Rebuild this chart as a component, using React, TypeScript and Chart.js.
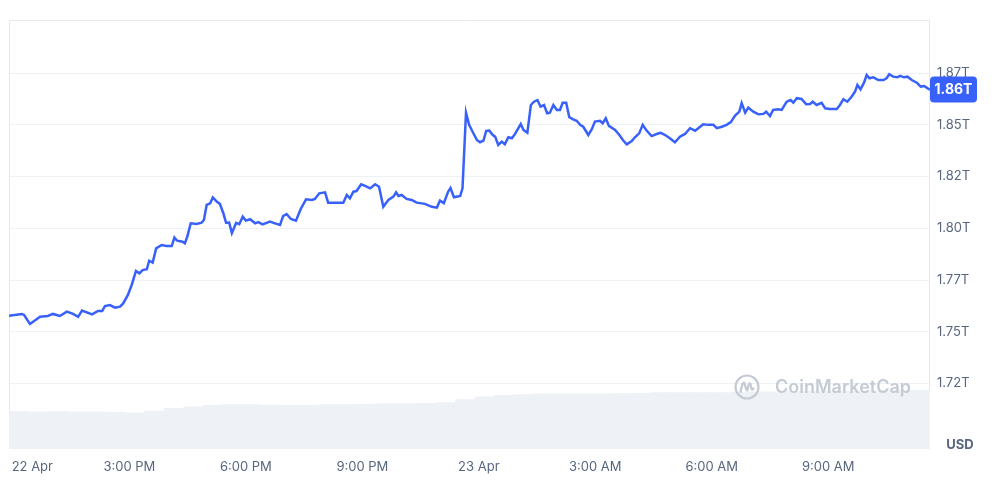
import React, { useEffect, useRef } from "react";
import { Chart, registerables } from "chart.js";

Chart.register(...registerables);

// Time in hours counted from 22 Apr 00:00 (24 = 23 Apr 00:00)
const TIMES = [
  11.90, 12.23, 12.29, 12.44, 12.70, 12.90, 13.03, 13.21, 13.39, 13.55,
  13.68, 13.78, 14.04, 14.19, 14.30, 14.37, 14.50, 14.63, 14.76, 14.84,
  14.96, 15.06, 15.17, 15.26, 15.34, 15.45, 15.51, 15.60, 15.69, 15.83,
  15.96, 16.09, 16.16, 16.23, 16.37, 16.43, 16.49, 16.58, 16.73, 16.86,
  16.92, 16.99, 17.08, 17.15, 17.25, 17.33, 17.42, 17.49, 17.57, 17.64,
  17.75, 17.83, 17.92, 18.00, 18.11, 18.24, 18.32, 18.43, 18.62, 18.75,
  18.88, 18.96, 19.05, 19.16, 19.29, 19.41, 19.55, 19.70, 19.78, 19.89,
  20.04, 20.12, 20.34, 20.51, 20.60, 20.68, 20.77, 20.85, 20.97, 21.07,
  21.20, 21.33, 21.43, 21.54, 21.67, 21.80, 21.87, 21.93, 22.01, 22.14,
  22.27, 22.40, 22.61, 22.79, 22.92, 23.00, 23.10, 23.21, 23.27, 23.36,
  23.52, 23.58, 23.67, 23.75, 23.84, 23.95, 24.03, 24.12, 24.19, 24.27,
  24.36, 24.42, 24.50, 24.59, 24.67, 24.76, 24.85, 24.93, 25.08, 25.15,
  25.25, 25.34, 25.42, 25.51, 25.59, 25.68, 25.76, 25.83, 25.92, 26.01,
  26.09, 26.16, 26.25, 26.33, 26.43, 26.52, 26.61, 26.69, 26.82, 26.91,
  26.99, 27.12, 27.19, 27.27, 27.35, 27.51, 27.62, 27.71, 27.81, 27.94,
  28.02, 28.13, 28.22, 28.31, 28.45, 28.58, 28.68, 28.80, 28.92, 29.05,
  29.18, 29.31, 29.44, 29.57, 29.70, 29.78, 29.91, 30.04, 30.13, 30.26,
  30.38, 30.49, 30.60, 30.71, 30.77, 30.86, 30.94, 31.07, 31.20, 31.33,
  31.40, 31.50, 31.58, 31.71, 31.80, 31.93, 32.03, 32.10, 32.19, 32.31,
  32.43, 32.53, 32.60, 32.70, 32.83, 32.92, 33.04, 33.22, 33.30, 33.39,
  33.49, 33.60, 33.69, 33.75, 33.83, 33.92, 33.99, 34.06, 34.16, 34.29,
  34.42, 34.50, 34.57, 34.67, 34.78, 34.85, 34.95, 35.04, 35.15, 35.28,
  35.38, 35.47, 35.58, 35.62,
];

// Total market cap, trillions USD
const PRICES = [
  1.7577, 1.7586, 1.7581, 1.7537, 1.7572, 1.7576, 1.7586, 1.7576, 1.7597, 1.7586,
  1.7572, 1.7602, 1.7584, 1.7600, 1.7600, 1.7624, 1.7629, 1.7616, 1.7621, 1.7637,
  1.7677, 1.7726, 1.7794, 1.7782, 1.7798, 1.7802, 1.7843, 1.7834, 1.7903, 1.7919,
  1.7914, 1.7914, 1.7955, 1.7940, 1.7935, 1.7927, 1.7959, 1.8024, 1.8021, 1.8027,
  1.8040, 1.8113, 1.8121, 1.8149, 1.8129, 1.8118, 1.8073, 1.8027, 1.8028, 1.7977,
  1.8026, 1.8020, 1.8056, 1.8037, 1.8044, 1.8024, 1.8030, 1.8019, 1.8032, 1.8024,
  1.8016, 1.8059, 1.8069, 1.8045, 1.8037, 1.8092, 1.8140, 1.8137, 1.8142, 1.8169,
  1.8174, 1.8124, 1.8124, 1.8124, 1.8161, 1.8145, 1.8177, 1.8180, 1.8213, 1.8205,
  1.8193, 1.8213, 1.8201, 1.8104, 1.8137, 1.8153, 1.8174, 1.8156, 1.8161, 1.8142,
  1.8137, 1.8124, 1.8118, 1.8104, 1.8100, 1.8134, 1.8122, 1.8177, 1.8195, 1.8150,
  1.8156, 1.8193, 1.8559, 1.8500, 1.8467, 1.8427, 1.8416, 1.8424, 1.8471, 1.8472,
  1.8451, 1.8443, 1.8403, 1.8419, 1.8406, 1.8440, 1.8435, 1.8455, 1.8504, 1.8475,
  1.8462, 1.8596, 1.8612, 1.8620, 1.8588, 1.8596, 1.8556, 1.8559, 1.8596, 1.8572,
  1.8572, 1.8607, 1.8607, 1.8537, 1.8527, 1.8520, 1.8500, 1.8491, 1.8451, 1.8479,
  1.8516, 1.8520, 1.8508, 1.8532, 1.8495, 1.8475, 1.8451, 1.8427, 1.8406, 1.8422,
  1.8440, 1.8459, 1.8500, 1.8475, 1.8446, 1.8456, 1.8462, 1.8451, 1.8435, 1.8416,
  1.8443, 1.8456, 1.8484, 1.8472, 1.8491, 1.8503, 1.8500, 1.8500, 1.8484, 1.8491,
  1.8500, 1.8513, 1.8545, 1.8564, 1.8605, 1.8559, 1.8583, 1.8564, 1.8551, 1.8553,
  1.8564, 1.8543, 1.8572, 1.8575, 1.8572, 1.8612, 1.8620, 1.8607, 1.8629, 1.8625,
  1.8600, 1.8601, 1.8612, 1.8596, 1.8607, 1.8580, 1.8577, 1.8577, 1.8596, 1.8624,
  1.8612, 1.8636, 1.8661, 1.8693, 1.8672, 1.8704, 1.8741, 1.8725, 1.8730, 1.8717,
  1.8717, 1.8725, 1.8745, 1.8733, 1.8730, 1.8737, 1.8730, 1.8733, 1.8717, 1.8704,
  1.8685, 1.8688, 1.8674, 1.8671,
];

// Volume, billions USD, one bar per 30 minutes
const VOLUME_TIMES = [
  12.15, 12.65, 13.15, 13.65, 14.15, 14.65, 15.15, 15.65, 16.15, 16.65,
  17.15, 17.65, 18.15, 18.65, 19.15, 19.65, 20.15, 20.65, 21.15, 21.65,
  22.15, 22.65, 23.15, 23.65, 24.15, 24.65, 25.15, 25.65, 26.15, 26.65,
  27.15, 27.65, 28.15, 28.65, 29.15, 29.65, 30.15, 30.65, 31.15, 31.65,
  32.15, 32.65, 33.15, 33.65, 34.15, 34.65, 35.15, 35.65,
];
const VOLUME = [
  52.5, 52, 52.5, 52, 52, 51.5, 50.5, 53, 57, 59,
  61, 62, 62, 61.5, 61, 61, 62, 62, 63, 63.5,
  63.5, 64, 65, 69, 73, 75, 76, 77, 77, 77,
  77, 77.5, 78, 79, 79, 79, 79, 79.5, 80, 80,
  80.5, 81, 81, 81, 81.5, 82, 82, 82,
];

const X_MIN = 11.9;
const X_MAX = 35.62;
const X_TICKS = [12.5, 15, 18, 21, 24, 27, 30, 33];
const X_TICK_LABELS = ["22 Apr", "3:00 PM", "6:00 PM", "9:00 PM", "23 Apr", "3:00 AM", "6:00 AM", "9:00 AM"];

const Y_MIN = 1.6933;
const Y_MAX = 1.9007;
const Y_TICKS = [1.725, 1.75, 1.775, 1.8, 1.825, 1.85, 1.875];
const Y_TICK_LABELS = ["1.72T", "1.75T", "1.77T", "1.80T", "1.82T", "1.85T", "1.87T"];
const VOLUME_AXIS_MAX = 600;

const LAST_PRICE_LABEL = "1.86T";
const CURRENCY_LABEL = "USD";
const WATERMARK = "CoinMarketCap";

const FONT = "Inter, 'Noto Sans', 'DejaVu Sans', sans-serif";
const BLUE = "#3861fb";
const LABEL_GRAY = "#58667e";

const framePlugin = {
  id: "frame",
  beforeDatasetsDraw(chart: any) {
    const { ctx, chartArea } = chart;
    ctx.save();
    ctx.strokeStyle = "#e6e8ec";
    ctx.lineWidth = 1;
    ctx.beginPath();
    ctx.moveTo(chartArea.left + 0.5, chartArea.bottom);
    ctx.lineTo(chartArea.left + 0.5, chartArea.top + 0.5);
    ctx.lineTo(chartArea.right - 0.5, chartArea.top + 0.5);
    ctx.lineTo(chartArea.right - 0.5, chartArea.bottom);
    ctx.stroke();
    ctx.restore();
  },
};

const watermarkPlugin = {
  id: "watermark",
  afterDatasetsDraw(chart: any) {
    const { ctx, chartArea } = chart;
    const cx = chartArea.right - 183;
    const cy = chartArea.bottom - 62;
    ctx.save();
    ctx.strokeStyle = "#c5cbd4";
    ctx.lineWidth = 2.2;
    ctx.lineCap = "round";
    ctx.lineJoin = "round";
    ctx.beginPath();
    ctx.arc(cx, cy, 11.5, 0, Math.PI * 2);
    ctx.stroke();
    ctx.beginPath();
    ctx.moveTo(cx - 6.5, cy + 5);
    ctx.quadraticCurveTo(cx - 4.5, cy - 6, cx - 2.5, cy - 4);
    ctx.quadraticCurveTo(cx - 0.5, cy + 5, cx + 0.5, cy + 3);
    ctx.quadraticCurveTo(cx + 2, cy - 6, cx + 3.5, cy - 3);
    ctx.quadraticCurveTo(cx + 4.5, cy + 5, cx + 6.5, cy + 1.5);
    ctx.stroke();
    ctx.fillStyle = "#c5cbd4";
    ctx.font = `600 18px ${FONT}`;
    ctx.textAlign = "left";
    ctx.textBaseline = "middle";
    ctx.fillText(WATERMARK, cx + 28, cy + 1);
    ctx.restore();
  },
};

const priceTagPlugin = {
  id: "priceTag",
  afterDraw(chart: any) {
    const { ctx, chartArea, scales } = chart;
    const y = scales.y.getPixelForValue(PRICES[PRICES.length - 1]);
    const x0 = chartArea.right;
    const w = 47;
    const h = 26;
    ctx.save();
    ctx.fillStyle = BLUE;
    ctx.beginPath();
    if (ctx.roundRect) ctx.roundRect(x0, y - h / 2, w, h, 4);
    else ctx.rect(x0, y - h / 2, w, h);
    ctx.fill();
    ctx.fillStyle = "#ffffff";
    ctx.font = `bold 14px ${FONT}`;
    ctx.textAlign = "center";
    ctx.textBaseline = "middle";
    ctx.fillText(LAST_PRICE_LABEL, x0 + w / 2, y + 0.5);

    ctx.fillStyle = LABEL_GRAY;
    ctx.font = `bold 13px ${FONT}`;
    ctx.textAlign = "center";
    ctx.fillText(CURRENCY_LABEL, chartArea.right + 30, chartArea.bottom - 4);
    ctx.restore();
  },
};

export default function App() {
  const canvasRef = useRef<HTMLCanvasElement | null>(null);

  useEffect(() => {
    if (!canvasRef.current) return;
    const chart = new Chart(canvasRef.current, {
      type: "line",
      data: {
        datasets: [
          {
            type: "line",
            label: "Market Cap",
            data: TIMES.map((t, i) => ({ x: t, y: PRICES[i] })),
            borderColor: BLUE,
            borderWidth: 2.5,
            pointRadius: 0,
            tension: 0,
            fill: false,
            yAxisID: "y",
            order: 0,
          },
          {
            type: "bar",
            label: "Volume",
            data: VOLUME_TIMES.map((t, i) => ({ x: t, y: VOLUME[i] })),
            backgroundColor: "#eef1f5",
            borderWidth: 0,
            barPercentage: 1,
            categoryPercentage: 1,
            yAxisID: "yv",
            order: 1,
          },
        ],
      } as any,
      options: {
        animation: false,
        responsive: true,
        maintainAspectRatio: false,
        layout: { padding: { left: 9, top: 20, right: 0, bottom: 0 } },
        plugins: { legend: { display: false }, tooltip: { enabled: false } },
        scales: {
          x: {
            type: "linear",
            min: X_MIN,
            max: X_MAX,
            offset: false,
            grid: { display: false, drawTicks: false },
            border: { display: false },
            afterBuildTicks: (axis: any) => {
              axis.ticks = X_TICKS.map((v) => ({ value: v }));
            },
            afterFit: (axis: any) => {
              axis.height = 47;
            },
            ticks: {
              autoSkip: false,
              maxRotation: 0,
              padding: 10,
              color: LABEL_GRAY,
              font: { family: FONT, size: 13 },
              callback: (_v: any, i: number) => X_TICK_LABELS[i],
            },
          },
          y: {
            type: "linear",
            position: "right",
            min: Y_MIN,
            max: Y_MAX,
            grid: { color: "#eff2f5", drawTicks: false },
            border: { display: false },
            afterBuildTicks: (axis: any) => {
              axis.ticks = Y_TICKS.map((v) => ({ value: v }));
            },
            afterFit: (axis: any) => {
              axis.width = 73;
            },
            ticks: {
              padding: 7,
              color: LABEL_GRAY,
              font: { family: FONT, size: 13 },
              callback: (_v: any, i: number) => Y_TICK_LABELS[i],
            },
          },
          yv: {
            type: "linear",
            display: false,
            min: 0,
            max: VOLUME_AXIS_MAX,
          },
        },
      } as any,
      plugins: [framePlugin, watermarkPlugin, priceTagPlugin],
    });
    return () => chart.destroy();
  }, []);

  return (
    <div
      style={{
        position: "absolute",
        left: 0,
        top: 0,
        width: 1003,
        height: 496,
        background: "#ffffff",
      }}
    >
      <canvas ref={canvasRef} />
    </div>
  );
}
